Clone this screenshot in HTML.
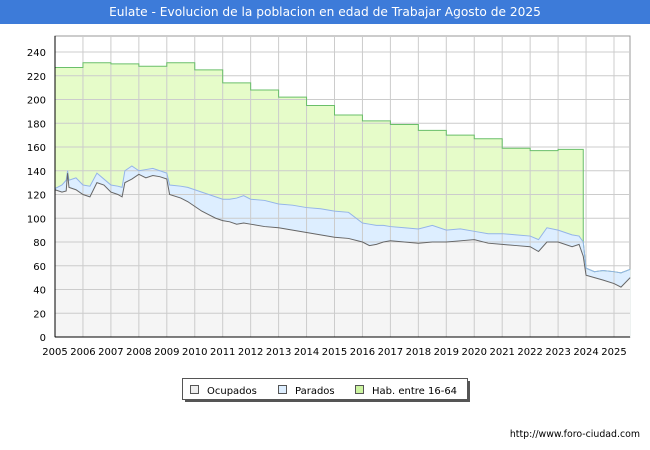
<!DOCTYPE html>
<html><head><meta charset="utf-8"><style>
body{margin:0;width:650px;height:450px;background:#fff;font-family:"DejaVu Sans","Liberation Sans",sans-serif;overflow:hidden;position:relative}
#title{position:absolute;left:0;top:0;width:650px;height:24px;background:#3d7bd9;color:#fff;font-size:12.2px;text-align:center;line-height:24px}
svg{position:absolute;left:0;top:0;font-family:"DejaVu Sans","Liberation Sans",sans-serif}
</style></head><body>
<div id="title">Eulate - Evolucion de la poblacion en edad de Trabajar Agosto de 2025</div>
<svg id="c" width="650" height="450"></svg>
<script>
const years=[2005,2006,2007,2008,2009,2010,2011,2012,2013,2014,2015,2016,2017,2018,2019,2020,2021,2022,2023];
const habValues=[227,231,230,228,231,225,214,208,202,195,187,182,179,174,170,167,159,157,158];
const ocuT=[2005,2005.25,2005.4,2005.45,2005.5,2005.75,2006,2006.25,2006.5,2006.75,2007,2007.25,2007.4,2007.5,2007.75,2008,2008.25,2008.5,2008.75,2009,2009.1,2009.5,2009.75,2010,2010.25,2010.5,2010.75,2011,2011.25,2011.5,2011.75,2012,2012.5,2013,2013.5,2014,2014.5,2015,2015.5,2016,2016.25,2016.5,2016.75,2017,2017.5,2018,2018.5,2019,2019.5,2020,2020.5,2021,2021.5,2022,2022.3,2022.6,2023,2023.5,2023.75,2023.9,2024,2024.3,2024.6,2025,2025.25,2025.58];
const ocuV=[124,122,123,138,126,124,120,118,130,128,122,120,118,130,133,137,134,136,135,133,120,117,114,110,106,103,100,98,97,95,96,95,93,92,90,88,86,84,83,80,77,78,80,81,80,79,80,80,81,82,79,78,77,76,72,80,80,76,78,68,52,50,48,45,42,50];
const totV=[125,128,132,140,132,134,128,127,138,133,128,127,126,140,144,140,141,142,140,138,128,127,126,124,122,120,118,116,116,117,119,116,115,112,111,109,108,106,105,96,95,94,94,93,92,91,94,90,91,89,87,87,86,85,82,92,90,86,85,80,58,55,56,55,54,57];
const yTicks=[0,20,40,60,80,100,120,140,160,180,200,220,240];
const xTicks=[2005,2006,2007,2008,2009,2010,2011,2012,2013,2014,2015,2016,2017,2018,2019,2020,2021,2022,2023,2024,2025];
const L=55,R=630,T=36,B=337;
const x=t=>L+(t-2005)*27.95;
const y=v=>B-v*1.1875;
const svg=document.getElementById('c');
const NS='http://www.w3.org/2000/svg';
function mk(tag,attrs){const e=document.createElementNS(NS,tag);for(const k in attrs)e.setAttribute(k,attrs[k]);svg.appendChild(e);return e;}
let r=mk('rect',{x:L,y:T,width:R-L,height:B-T,fill:'#fff',stroke:'#999'});

let hp=[];
years.forEach((yr,i)=>{const e=i<years.length-1?years[i+1]:2023.9;hp.push([x(yr),y(habValues[i])],[x(e),y(habValues[i])]);});
let idx=ocuT.indexOf(2023.9);
for(let i=idx;i<ocuT.length;i++)hp.push([x(ocuT[i]),y(totV[i])]);
const hs=hp.map(p=>p.join(',')).join(' ');
let ha=mk('polygon',{points:hs+' '+x(2025.58)+','+B+' '+L+','+B,fill:'#e6fcc9'});

const tp=ocuT.map((t,i)=>x(t)+','+y(totV[i])).join(' ');
let pa=mk('polygon',{points:tp+' '+x(2025.58)+','+B+' '+L+','+B,fill:'#ddeeff'});

const op=ocuT.map((t,i)=>x(t)+','+y(ocuV[i])).join(' ');
let oa=mk('polygon',{points:op+' '+x(2025.58)+','+B+' '+L+','+B,fill:'#f5f5f5'});

yTicks.forEach(v=>{let g=mk('line',{x1:L,x2:R,y1:y(v),y2:y(v),stroke:'#ccc','stroke-width':1});

let t=mk('text',{x:L-9,y:y(v)+4,'text-anchor':'end','font-size':10,fill:'#000'});t.textContent=v;
});
xTicks.forEach(v=>{let g=mk('line',{x1:x(v),x2:x(v),y1:T,y2:B,stroke:'#ccc','stroke-width':1});

let t=mk('text',{x:x(v),y:B+18,'text-anchor':'middle','font-size':10,fill:'#000'});t.textContent=v;
});
let hl=mk('polyline',{points:hs,fill:'none',stroke:'#6abf6a','stroke-width':1});

let pl=mk('polyline',{points:tp,fill:'none',stroke:'#94b4e8','stroke-width':1});

let ol=mk('polyline',{points:op,fill:'none',stroke:'#666','stroke-width':1});

let ax=mk('line',{x1:L,x2:L,y1:T,y2:B,stroke:'#000'});
let ax2=mk('line',{x1:L,x2:R,y1:B,y2:B,stroke:'#000'});
let ls=mk('rect',{x:185,y:381,width:285,height:21,fill:'#555'});
let lb=mk('rect',{x:182.5,y:378.5,width:285,height:21,fill:'#fff',stroke:'#555'});
const leg=[['Ocupados','#eeeeee',190],['Parados','#ddeeff',278],['Hab. entre 16-64','#ccf5a0',355]];
leg.forEach(l=>{let s=mk('rect',{x:l[2]+0.5,y:385.5,width:8,height:8,fill:l[1],stroke:'#555'});

let t=mk('text',{x:l[2]+17,y:394,'font-size':10,fill:'#000'});t.textContent=l[0];
});
let u=mk('text',{x:640,y:437,'text-anchor':'end','font-size':9.4,fill:'#000'});u.textContent='http://www.foro-ciudad.com';

</script>
</body></html>
